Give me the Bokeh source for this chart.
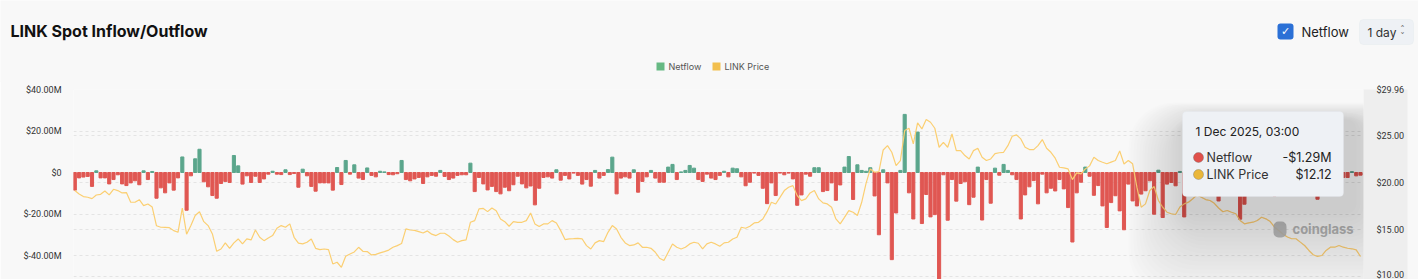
import pandas as pd
from bokeh.plotting import figure
from bokeh.layouts import column
from bokeh.models import (Range1d, LinearAxis, FixedTicker, CustomJSTickFormatter,
                          Grid, Label, BoxAnnotation, ColumnDataSource)
from bokeh.embed import file_html
from bokeh.resources import INLINE

# ---------------- data ----------------
START_DATE = "2025-02-05"
title_text = "LINK Spot Inflow/Outflow"
series_names = ["Netflow", "LINK Price"]
period_text = "1 day"
netflow_ticks = [-40, -20, 0, 20, 40]
price_ticks = [10, 15, 20, 25, 29.96]

# daily spot netflow, $M
netflow = [
    -8.5, -2.6, -2.2, -1.9, -6.7, 0.8, -2.6, -2.6, -5.5, -3.4,
    -1.1, -5.5, -6.3, -5.0, -4.0, -5.9, 0.8, -3.4, 0.5, -12.4,
    -7.4, -9.8, -5.0, -8.5, -2.6, 7.5, -18.2, -1.6, 6.6, 11.2,
    -4.5, -6.9, -11.1, -12.4, -5.3, -4.3, -4.8, 8.2, 3.2, -5.6,
    -1.6, -4.8, -1.8, -4.8, -3.1, -0.8, 0.6, -0.8, -1.0, 1.3,
    -1.0, -0.5, -7.1, 1.6, -1.6, -6.7, -9.0,
    -5.0, -5.0, -5.0, -8.5, 2.4, -5.8, 5.8, -0.8, 3.7, -2.7,
    -3.4, 2.2, -1.4, -2.1, 0.6, 0.3, -1.0, -1.1, -0.6, 5.8,
    -3.4, -4.0, -3.1, -2.4, -5.3, -2.1, -1.4, -1.8, 1.0, -1.9,
    -3.4, -2.7, -1.4, -1.1, -1.1, 4.5, -9.2, -2.4, -5.5, -8.4,
    -6.7, -9.2, -10.3, -7.1, -8.8, -5.9, -1.8, -5.5, -7.4, -6.5,
    -15.6, -7.6, -2.4, -2.1, -2.7, 1.3, -3.7, -1.4, -3.1, -0.3,
    -1.4,
    -5.6, -3.4, -6.6, 1.0, -2.7, -1.4, 1.4, 7.4, -10.3, -2.7,
    -2.1, -2.7, 1.3, -9.5, -4.3, -2.1, 1.0, -2.7, -4.7, -4.7,
    2.6, 3.9, -3.4, 0.3, 1.0, 3.4, 2.1, -3.4, -4.3, -0.8,
    -2.7, -3.4, -1.4, 0.6, -2.1, 2.1, 1.8, -2.1, -6.4, -4.7,
    -0.3, -1.4, -7.6, -15.0, -5.0, -11.1, -0.3, -1.1, -0.3, -3.1,
    -15.8, -10.8, -0.8, -1.8, 2.3, 2.3, -9.2, -8.7, -5.0, -13.4,
    -6.0, 2.6, 7.7, -13.0, 3.7, 1.0, 0.6, 2.3, -11.3, -30.0,
    1.3, -5.0, -42.0, -19.5, 1.0, 28.0, -9.8, -22.4, 19.5, -24.6,
    -10.6, -21.4, -20.3, -62.0, -1.1, -23.0, -3.4, -13.8, -5.3, -4.5,
    -15.5, -11.9, 2.6, -22.9, -3.4, -14.8, 2.1, -1.3, 3.9, 1.0,
    -1.1, -3.4, -22.4, -10.8, -6.9, -3.9, -15.1, -0.8, -9.8, -7.6,
    -8.9, -3.4, -7.9, -16.9, -33.5, -9.8, -4.7, 2.6, -1.8, -11.0,
    -6.3,
    -16.1, -26.5, -14.5, -11.2, -18.5, -27.6, -5.6, -13.7, -16.1, -10.4,
    -8.8, -4.0, -20.1, 1.1, -21.7, -5.6, -4.8, -6.4, 0.5, -21.4,
    -6.0, -3.0, -8.0, -4.0, -2.0, -5.0, -9.0, -13.7, -4.0, -2.0,
    -6.0, -3.0, -22.5, -15.3, -5.0, -3.0, -7.0, -2.0, -4.0, -6.0,
    -11.2, -3.0, -5.0, -2.0, -8.0, -4.0, -3.0, -6.0, -2.0, -5.0,
    -12.9, -4.0, -2.0, -6.0, -3.0, -5.0, -2.4, -2.4, 0.4, -1.6,
    -1.29,
]

# LINK price, $
price = [
    19.16, 18.80, 18.52, 18.45, 18.30, 18.69, 18.76, 19.12, 18.70, 19.30,
    19.16, 18.91, 18.95, 17.91, 17.91, 18.19, 17.55, 17.73, 17.40, 15.40,
    15.24, 15.22, 15.20, 14.88, 14.70, 17.30, 14.50, 15.42, 16.49, 16.90,
    15.84, 15.42, 14.53, 12.67, 12.92, 13.57, 12.99, 13.57, 13.99, 13.46,
    13.99, 13.89, 14.95, 14.17, 13.81, 14.10, 14.35, 15.13, 15.42, 15.24,
    15.60, 14.17, 13.55, 13.46, 13.64, 13.99, 12.99,
    12.85, 12.92, 12.85, 11.32, 11.50, 10.96, 12.14, 12.39, 12.60, 13.10,
    12.67, 12.64, 12.28, 12.35, 12.50, 12.64, 12.80, 13.10, 13.28, 13.50,
    15.06, 14.95, 14.90, 14.78, 14.63, 14.85, 14.50, 14.35, 14.60, 14.60,
    14.30, 13.92, 13.64, 13.81, 13.89, 15.77, 15.95, 17.20, 17.25, 16.91,
    17.30, 17.00, 16.13, 15.84, 15.35, 15.84, 15.77, 15.77, 15.95, 16.77,
    15.60, 15.31, 15.60, 15.60, 15.95, 15.70, 14.88, 13.92, 13.99, 14.02,
    14.06,
    13.99, 13.28, 12.92, 13.57, 13.81, 13.71, 14.70, 15.42, 15.06, 14.17,
    13.57, 13.28, 13.35, 13.57, 13.10, 13.10, 12.99, 12.57, 11.93, 11.68,
    12.57, 13.46, 13.10, 12.92, 13.10, 13.46, 13.64, 13.53, 12.92, 13.46,
    13.64, 13.46, 13.21, 13.57, 13.64, 13.99, 14.17, 15.24, 15.13, 15.35,
    15.70, 15.77, 16.13, 16.91, 17.91, 17.73, 18.44, 19.16, 19.52, 19.69,
    18.62, 18.09, 18.27, 18.91, 19.16, 18.27, 17.84, 17.73, 17.38, 16.13,
    15.60, 16.30, 17.02, 16.84, 16.50, 17.91, 19.90, 21.47, 21.12, 21.19,
    23.50, 23.96, 23.25, 21.83, 22.37, 25.57, 25.82, 24.15, 26.40, 25.75,
    26.75, 26.46, 25.82, 23.79, 24.32, 23.79, 25.21, 23.43, 23.43, 22.90,
    22.54, 23.43, 23.68, 22.72, 22.37, 22.54, 23.11, 23.20, 23.25, 23.96,
    24.97, 25.11, 24.68, 23.79, 23.54, 23.54, 23.96, 24.61, 23.68, 23.25,
    22.62, 21.65, 21.58, 21.47, 20.33, 21.05, 20.94, 21.47, 21.80, 22.72,
    22.37,
    22.19, 22.02, 22.20, 22.37, 23.40, 22.00, 22.37, 22.02, 19.52, 17.38,
    17.74, 19.17, 19.60, 18.10, 17.38, 16.85, 16.68, 16.60, 17.40, 17.74,
    17.92, 18.28, 18.70, 18.45, 18.20, 18.10, 17.80, 17.30, 16.90, 17.03,
    16.85, 16.68, 15.96, 15.61, 15.70, 15.78, 15.96, 16.31, 16.14, 15.85,
    15.25, 14.89, 14.50, 14.20, 14.01, 14.01, 13.65, 13.29, 12.76, 12.30,
    12.12, 12.22, 12.76, 13.11, 13.11, 13.29, 13.11, 13.00, 12.94, 12.83,
    12.12,
]

# ---------------- styling ----------------
BG = "#f8f8f8"
RED = "#e05752"
GREEN = "#5ba68c"
LINE = "#fbcf72"
TXT = "#222222"
W = 1418
HH = 82                    # header figure height
OVERLAP = 2                # main figure drawn 2px over the header's bottom edge
H = 279                    # page height
FL, FR, FT = 73, 1363, 89  # main frame left / right / top (page px)
PITCH = 4.3                # px per day
FIRST_BAR_PX = 74.3

# ---------------- header figure (title, controls, legend) ----------------
hdr = figure(width=W, height=HH, x_range=Range1d(0, W), y_range=Range1d(0, HH),
             output_backend="svg", toolbar_location=None, title=None,
             x_axis_location=None, y_axis_location=None,
             min_border_left=0, min_border_right=0, min_border_top=0, min_border_bottom=0,
             background_fill_color=BG, border_fill_color=BG, outline_line_color=None)
hdr.frame_align = False
hdr.grid.visible = False

def hbox(l, r, t, b, **kw):
    return BoxAnnotation(left=l, right=r, top=HH - t, bottom=HH - b, **kw)

def hlab(x, y, text, **kw):
    return Label(x=x, y=HH - y, text=text, text_baseline="middle", **kw)

hdr.add_layout(hlab(10, 30, title_text, text_font="Inter", text_font_style="bold",
                    text_font_size="16px", text_color="#111111"))
hdr.add_layout(hbox(1277, 1293, 23, 39, fill_color="#2b70d6", fill_alpha=1, line_color=None, border_radius=3))
hdr.add_layout(hlab(1285, 31, "\u2713", text_font="DejaVu Sans", text_font_style="bold",
                    text_font_size="11px", text_color="white", text_align="center"))
hdr.add_layout(hlab(1301, 31, series_names[0], text_font="Inter", text_font_size="13px", text_color="#222222"))
hdr.add_layout(hbox(1359, 1413, 19, 44, fill_color="#eef1f5", fill_alpha=1,
                    line_color="#dfe3e8", line_width=1, border_radius=4))
hdr.add_layout(hlab(1367, 31.5, period_text, text_font="Inter", text_font_size="12px", text_color="#333333"))
hdr.add_layout(hlab(1402, 28, "\u02c4", text_font="DejaVu Sans", text_font_size="9px",
                    text_color="#666666", text_align="center"))
hdr.add_layout(hlab(1402, 35, "\u02c5", text_font="DejaVu Sans", text_font_size="9px",
                    text_color="#666666", text_align="center"))
for (lx, col, name) in [(656, "#66b983", series_names[0]), (712, "#f2bf4e", series_names[1])]:
    hdr.add_layout(hbox(lx, lx + 8, 62, 70, fill_color=col, fill_alpha=1, line_color=None))
    hdr.add_layout(hlab(lx + 12, 66, name, text_font="Inter", text_font_size="9px", text_color="#555555"))

# ---------------- main chart ----------------
TOP = HH - OVERLAP         # page y of main figure top
MH = H - TOP
def X(px):  # page px -> frame screen units
    return px - FL

def Y(py):
    return H - py

def box(l, r, t, b, **kw):
    return BoxAnnotation(left=X(l), right=X(r), top=Y(t), bottom=Y(b),
                         left_units="screen", right_units="screen",
                         top_units="screen", bottom_units="screen", **kw)

def lab(x, y, text, **kw):
    return Label(x=X(x), y=Y(y), x_units="screen", y_units="screen", text=text,
                 text_baseline="middle", **kw)

n = len(netflow)
dates = pd.date_range(START_DATE, periods=n, freq="D") + pd.Timedelta(hours=3)
idx = list(range(n))
colors = [GREEN if v >= 0 else RED for v in netflow]
src = ColumnDataSource(dict(i=idx, v=netflow, c=colors, p=price))

x0 = -(FIRST_BAR_PX - FL) / PITCH
x_range = Range1d(x0, x0 + (FR - FL) / PITCH)
frame_h = H - FT
ml = (255 - 89) / 80.0
y_left = Range1d(40 - frame_h / ml, 40)
mr = (275.8 - 89) / (29.96 - 10)
y_right = Range1d(29.96 - frame_h / mr, 29.96)

p = figure(width=W, height=MH, x_range=x_range, y_range=y_left,
           output_backend="svg", toolbar_location=None, title=None,
           x_axis_location=None, y_axis_location="left",
           min_border_left=FL, min_border_right=W - FR,
           min_border_top=FT - TOP, min_border_bottom=0,
           background_fill_color=BG, border_fill_color=BG,
           outline_line_color=None)
p.frame_align = False
p.styles = {"margin-top": f"-{OVERLAP}px"}
p.extra_y_ranges = {"price": y_right}

ax = p.yaxis[0]
ax.ticker = FixedTicker(ticks=netflow_ticks)
ax.formatter = CustomJSTickFormatter(code="return tick == 0 ? '$0' : '$' + tick.toFixed(2) + 'M';")
ax.axis_line_color = None
ax.major_tick_line_color = None
ax.minor_tick_line_color = None
ax.major_label_text_font = "Roboto"
ax.major_label_text_font_size = "9px"
ax.major_label_text_color = "#333333"
ax.major_label_standoff = 6

ra = LinearAxis(y_range_name="price", ticker=FixedTicker(ticks=price_ticks),
                formatter=CustomJSTickFormatter(code="return '$' + tick.toFixed(2);"),
                axis_line_color=None, major_tick_line_color=None, minor_tick_line_color=None,
                major_label_text_font="Roboto", major_label_text_font_size="9px",
                major_label_text_color="#333333", major_label_standoff=7)
ra.background_fill_color = "black"
ra.background_fill_alpha = 0.04
p.add_layout(ra, "right")

p.xgrid.grid_line_color = None
p.ygrid.grid_line_color = "#e4e4e4"
p.ygrid.grid_line_dash = "3 3"
g2 = Grid(dimension=1, ticker=FixedTicker(ticks=price_ticks), y_range_name="price",
          grid_line_color="#e4e4e4", grid_line_dash="3 3")
p.add_layout(g2)

p.vbar(x="i", top="v", width=0.72, color="c", source=src)
p.line(x="i", y="p", y_range_name="price", source=src, line_color=LINE, line_width=1.2)

# watermark
p.add_layout(box(1273, 1286, 221, 237, fill_color="#bdbdbd", fill_alpha=0.9, line_color=None, border_radius=5))
p.add_layout(lab(1292, 228, "coinglass", text_font="Inter", text_font_style="bold",
                 text_font_size="13px", text_color="#bdbdbd"))

# tooltip with soft shadow
TL, TR, TT, TB = 1182, 1343, 111, 196
for k in range(22):
    pad = 3 + 4 * k
    p.add_layout(box(TL - int(pad * 0.7) + 6, TR + pad + 10, TT - int(pad * 0.2) + 8, TB + pad + 14,
                     fill_color="black", fill_alpha=0.0075, line_color=None,
                     border_radius=min(pad + 6, 45)))
p.add_layout(box(TL, TR, TT, TB, fill_color="#eef1f5", fill_alpha=1, line_color="#e2e5ea", border_radius=4))
last = n - 1
d = dates[last]
date_txt = f"{d.day} {d.strftime('%b %Y')}, {d.strftime('%H:%M')}"
nf = netflow[last]
nf_txt = ("-" if nf < 0 else "") + f"${abs(nf):.2f}M"
pr_txt = f"${price[last]:.2f}"
p.add_layout(lab(1195, 131, date_txt, text_font="Inter", text_font_size="12px", text_color=TXT))
for (ty, col, name, val) in [(157, "#e0504b", series_names[0], nf_txt), (174, "#eab73a", series_names[1], pr_txt)]:
    p.add_layout(box(1193, 1203, ty - 5, ty + 5, fill_color=col, fill_alpha=1,
                     line_color="#555555", line_width=1, border_radius=5))
    p.add_layout(lab(1206, ty, name, text_font="Inter", text_font_size="12.5px", text_color="#333333"))
    p.add_layout(lab(1331, ty, val, text_font="Inter", text_font_size="12.5px", text_color=TXT,
                     text_align="right"))

layout = column(hdr, p, spacing=0)
html = file_html(layout, INLINE)
html = html.replace("<body>", '<body style="background-color:#f8f8f8;">', 1)
open("out.html", "w").write(html)
